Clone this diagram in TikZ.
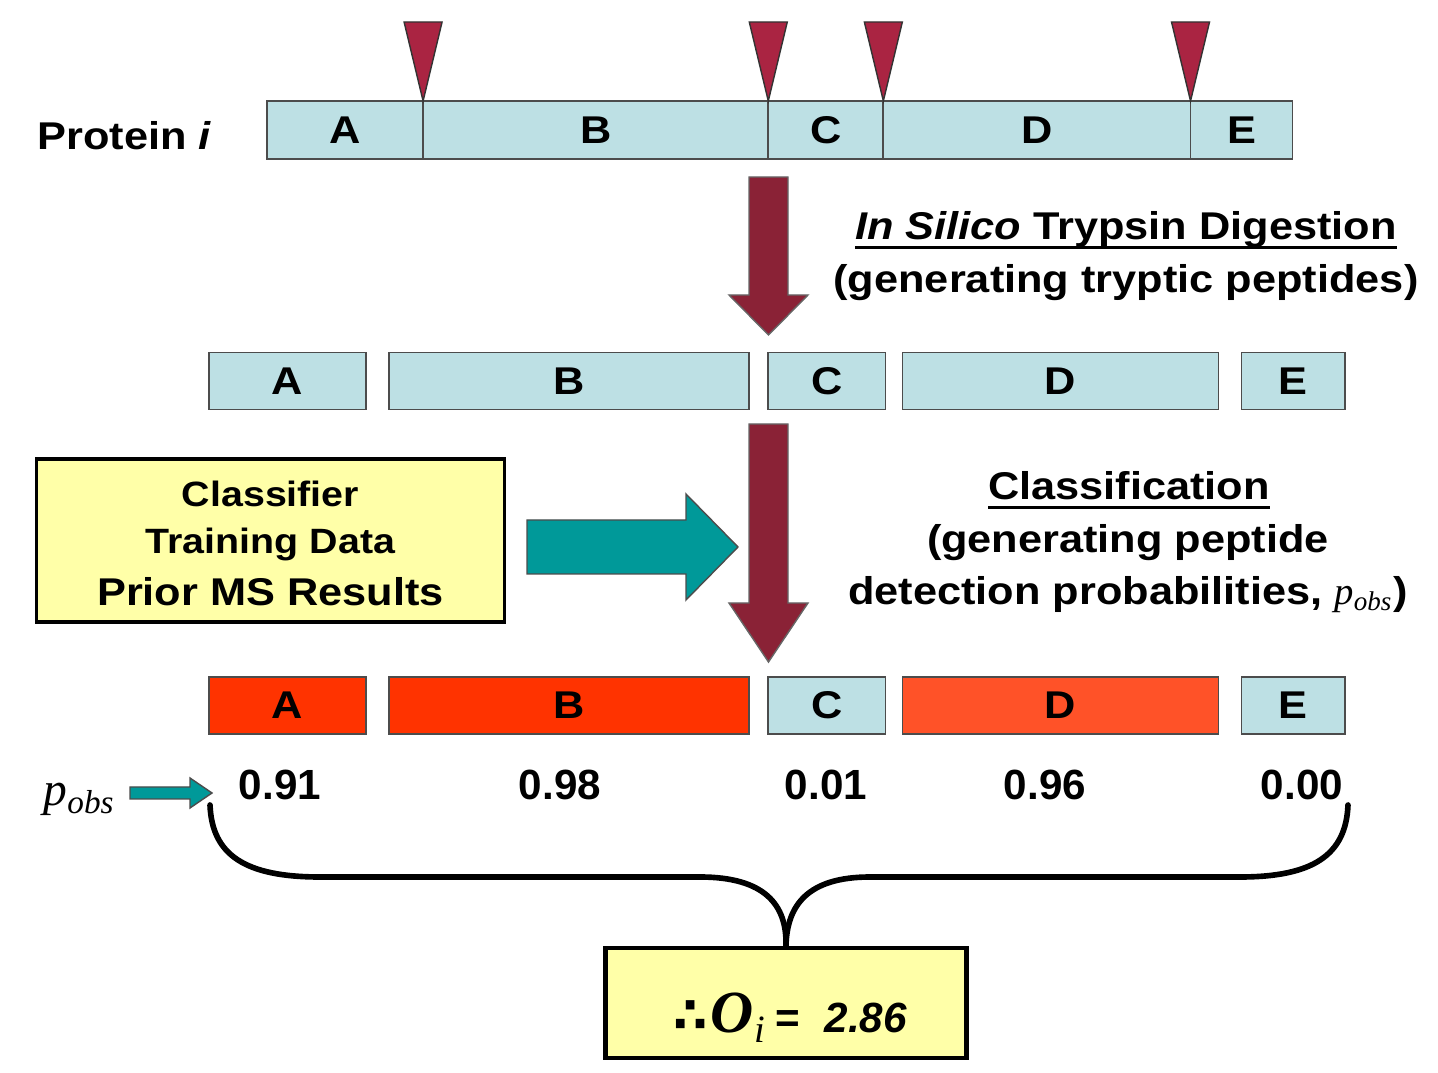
\documentclass[tikz,border=0pt]{standalone}
\usepackage{fontspec}
\setmainfont{Liberation Sans}[FakeStretch=1.12]
\newfontfamily\plainsans{Liberation Sans}
\newfontfamily\timesfont{Liberation Serif}
\newfontfamily\symfont{DejaVu Sans}
\usetikzlibrary{positioning}

\definecolor{pepcyan}{RGB}{189,224,228}
\definecolor{cutred}{RGB}{170,36,66}
\definecolor{digestred}{RGB}{138,34,54}
\definecolor{trainteal}{RGB}{0,153,153}
\definecolor{hitred}{RGB}{255,51,0}
\definecolor{hitorange}{RGB}{255,82,40}
\definecolor{noteyellow}{RGB}{255,255,168}

\newcommand{\headline}[1]{\setbox0\hbox{#1}\rlap{\rule[-2.6pt]{\wd0}{0.9pt}}\box0}
\newcommand{\pobs}{{\timesfont\mdseries\itshape p\textsubscript{obs}}}

\begin{document}
\begin{tikzpicture}[x=0.01cm, y=-0.01cm]
        \tikzstyle{every node} = [font=\bfseries\fontsize{11}{13}\selectfont]
        \tikzstyle{seg} = [rectangle, draw=black!70, line width=0.5pt, fill=pepcyan, minimum height=0.58cm, inner sep=0pt, outer sep=0pt]
        \tikzstyle{pep} = [seg, minimum height=0.57cm]
        \tikzstyle{txt} = [inner sep=0pt, anchor=base]
        \tikzstyle{cutmark} = [fill=cutred, draw=black!80, line width=0.4pt]
        \tikzstyle{digest} = [fill=digestred, draw=black!60, line width=0.4pt]
        \tikzstyle{feed} = [fill=trainteal, draw=black!70, line width=0.4pt]
        \tikzstyle{note} = [rectangle, fill=noteyellow, draw=black, inner sep=0pt]
        \tikzstyle{brace} = [line width=1.6pt, line cap=round]

        \useasboundingbox (0,0) rectangle (1438,1073);

        % protein i and its cleavage sites
        \node (prot) [txt, anchor=base west] at (37,150) {Protein \textit{i}};
        \node (tA) [seg, minimum width=1.56cm, anchor=west] at (267,130) {A};
        \node (tB) [seg, minimum width=3.45cm, right=0cm of tA] {B};
        \node (tC) [seg, minimum width=1.15cm, right=0cm of tB] {C};
        \node (tD) [seg, minimum width=3.07cm, right=0cm of tC] {D};
        \node (tE) [seg, minimum width=1.02cm, right=0cm of tD] {E};
        \foreach \s in {tA,tB,tC,tD}
                \filldraw[cutmark] (\s.north east) -- ++(-19,-79) -- ++(38,0) -- cycle;

        % digestion
        \filldraw[digest] (749,177) -- (788,177) -- (788,295) -- (808,295) -- (768.5,335) -- (729,295) -- (749,295) -- cycle;
        \node (dig1) [txt] at (1126,240) {\headline{\textit{In Silico} Trypsin Digestion}};
        \node (dig2) [txt] at (1126,293) {(generating tryptic peptides)};

        % tryptic peptides
        \node (r2A) [pep, minimum width=1.57cm, anchor=west] at (209,381) {A};
        \node (r2B) [pep, minimum width=3.60cm, right=0.23cm of r2A] {B};
        \node (r2C) [pep, minimum width=1.17cm, right=0.19cm of r2B] {C};
        \node (r2D) [pep, minimum width=3.16cm, right=0.17cm of r2C] {D};
        \node (r2E) [pep, minimum width=1.03cm, right=0.23cm of r2D] {E};

        % classification
        \node (train) [note, line width=0.9pt, minimum width=4.67cm, minimum height=1.63cm] at (270.5,540.5) {};
        \node (train1) [txt, font=\bfseries\fontsize{10}{12}\selectfont] at (270.5,507) {Classifier};
        \node (train2) [txt, font=\bfseries\fontsize{10}{12}\selectfont] at (270.5,554) {Training Data};
        \node (train3) [txt] at (270.5,606) {Prior MS Results};
        \filldraw[feed] (527,520) -- (686,520) -- (686,494) -- (738,547) -- (686,600) -- (686,574) -- (527,574) -- cycle;
        \filldraw[digest] (749,424) -- (788,424) -- (788,603) -- (808,603) -- (768.5,662) -- (729,603) -- (749,603) -- cycle;
        \node (cls1) [txt] at (1129,500) {\headline{Classification}};
        \node (cls2) [txt] at (1128,553) {(generating peptide};
        \node (cls3) [txt] at (1128,605) {detection probabilities, \pobs)};

        % detection probabilities
        \node (r3A) [pep, fill=hitred, minimum width=1.57cm, below=2.67cm of r2A] {A};
        \node (r3B) [pep, fill=hitred, minimum width=3.60cm, below=2.67cm of r2B] {B};
        \node (r3C) [pep, minimum width=1.17cm, below=2.67cm of r2C] {C};
        \node (r3D) [pep, fill=hitorange, minimum width=3.16cm, below=2.67cm of r2D] {D};
        \node (r3E) [pep, minimum width=1.03cm, below=2.67cm of r2E] {E};
        \foreach \x/\v [count=\i] in {280/0.91, 560/0.98, 826/0.01, 1045/0.96, 1302/0.00}
                \node (p\i) [txt, font=\plainsans\bfseries\fontsize{12}{14}\selectfont] at (\x,800) {\v};
        \node (pobs) [txt, anchor=base west, font=\fontsize{13.5}{15}\selectfont] at (43,806) {\pobs};
        \filldraw[feed] (130,787) -- (190,787) -- (190,778) -- (212,793) -- (190,808) -- (190,799) -- (130,799) -- cycle;

        % summed observability
        \node (result) [note, line width=1.4pt, minimum width=3.6cm, minimum height=1.1cm] at (786,1003) {};
        \node (total) [txt] at (790,1032) {{\symfont\fontsize{14}{14}\selectfont ∴}\hspace{1pt}{\timesfont\itshape\fontsize{17}{17}\selectfont O}{\timesfont\mdseries\itshape\fontsize{11}{11}\selectfont\raisebox{-3pt}{i}}\hspace{3pt}{\plainsans\fontsize{12}{12}\selectfont=\hspace{7pt}\itshape 2.86}};
        \coordinate (bl) at (210,805);
        \coordinate (br) at (1348,805);
        \draw[brace] (bl) .. controls (212,855) and (245,877) .. (320,877) -- (700,877) .. controls (765,877) and (787,905) .. (result.north);
        \draw[brace] (br) .. controls (1346,855) and (1313,877) .. (1240,877) -- (870,877) .. controls (808,877) and (787,905) .. (result.north);

\end{tikzpicture}
\end{document}
